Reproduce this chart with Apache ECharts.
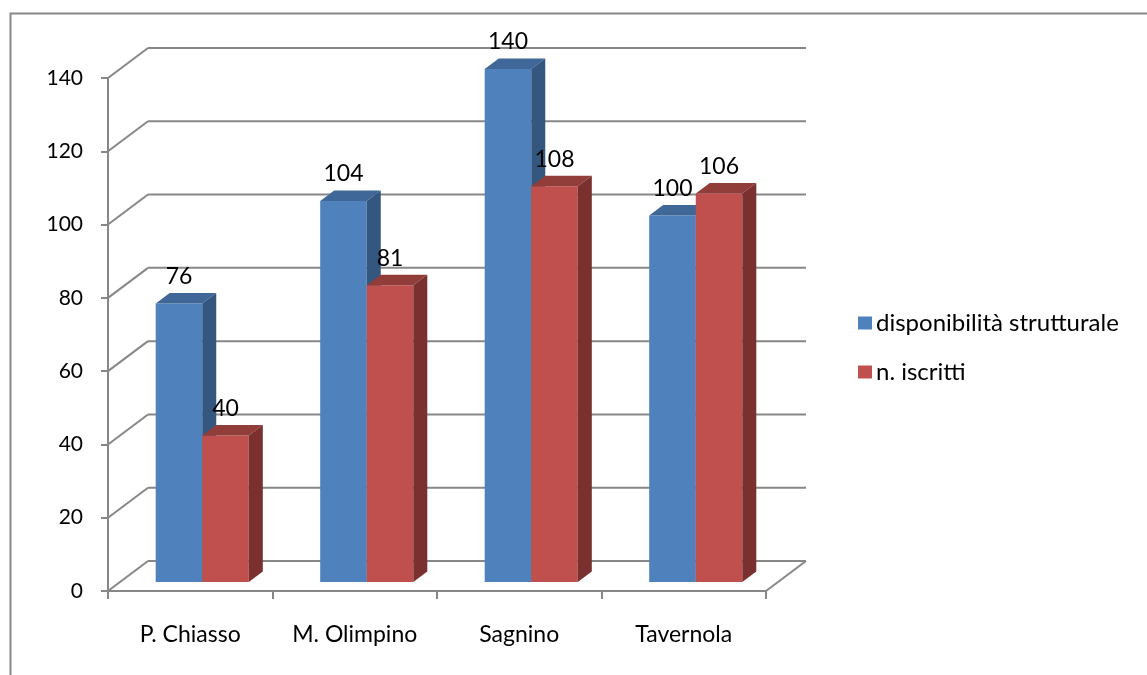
<!DOCTYPE html>
<html>
<head>
<meta charset="utf-8">
<script src="https://cdn.jsdelivr.net/npm/echarts@6/dist/echarts.min.js"></script>
<style>
  html, body { margin: 0; padding: 0; background: #fff; }
  #chart { width: 1147px; height: 675px; }
</style>
</head>
<body>
<div id="chart"></div>
<script>
// Data
const categories = ['P. Chiasso', 'M. Olimpino', 'Sagnino', 'Tavernola'];
const disponibilita = [76, 104, 140, 100];
const iscritti = [40, 81, 108, 106];
const yTicks = [0, 20, 40, 60, 80, 100, 120, 140];
const seriesNames = ['disponibilità strutturale', 'n. iscritti'];

// Pseudo-3D geometry: depth of the chart box and where the bars sit in it
const DEPTH_X = 40, DEPTH_Y = -30;
const BAR_D0 = 0.3, BAR_D1 = 0.65;
const BAR_FRAC = 0.283;
const FONT = 'Lato, "Open Sans", sans-serif';
const GRID_COLOR = '#878787';

const palettes = [
  { front: '#4F81BD', top: '#3F6899', side: '#34577F' },
  { front: '#C0504D', top: '#913D3A', side: '#7A302E' }
];

// Back wall, side wall and floor lines at each tick value
function renderWalls(params, api) {
  const cs = params.coordSys;
  const v = api.value(1);
  const y = api.coord([0, v])[1];
  const x0 = cs.x, x1 = cs.x + cs.width;
  const style = { stroke: GRID_COLOR, lineWidth: 2 };
  const children = [
    { type: 'line', shape: { x1: x0, y1: y, x2: x0 + DEPTH_X, y2: y + DEPTH_Y }, style },
    { type: 'line', shape: { x1: x0 + DEPTH_X, y1: y + DEPTH_Y, x2: x1 + DEPTH_X, y2: y + DEPTH_Y }, style }
  ];
  if (v === 0) {
    children.push({ type: 'line', shape: { x1: x1, y1: y, x2: x1 + DEPTH_X, y2: y + DEPTH_Y }, style });
  }
  return { type: 'group', children };
}

function makeBarRenderer(sIdx) {
  const pal = palettes[sIdx];
  return function (params, api) {
    const idx = api.value(0), val = api.value(1);
    const base = api.coord([idx, 0]);
    const top = api.coord([idx, val]);
    const catW = api.size([1, 0])[0];
    const bw = catW * BAR_FRAC;
    const off = sIdx === 0 ? -bw : 0;
    const fx = base[0] + DEPTH_X * BAR_D0 + off;
    const fy0 = base[1] + DEPTH_Y * BAR_D0;
    const fy1 = top[1] + DEPTH_Y * BAR_D0;
    const bdx = DEPTH_X * (BAR_D1 - BAR_D0), bdy = DEPTH_Y * (BAR_D1 - BAR_D0);
    return {
      type: 'group',
      children: [
        { type: 'rect', shape: { x: fx, y: fy1, width: bw, height: fy0 - fy1 }, style: { fill: pal.front } },
        { type: 'polygon', shape: { points: [[fx, fy1], [fx + bw, fy1], [fx + bw + bdx, fy1 + bdy], [fx + bdx, fy1 + bdy]] }, style: { fill: pal.top } },
        { type: 'polygon', shape: { points: [[fx + bw, fy1], [fx + bw + bdx, fy1 + bdy], [fx + bw + bdx, fy0 + bdy], [fx + bw, fy0]] }, style: { fill: pal.side } },
        { type: 'text', z2: 10, style: { x: fx + bw / 2, y: fy1 + bdy - 5, text: String(val), align: 'center', verticalAlign: 'bottom', fill: '#000', font: '23px ' + FONT } }
      ]
    };
  };
}

const chart = echarts.init(document.getElementById('chart'), null, { renderer: 'canvas' });
chart.setOption({
  backgroundColor: '#fff',
  animation: false,
  textStyle: { fontFamily: FONT },
  graphic: [{
    type: 'rect', left: 8, top: 11, z: -10,
    shape: { width: 1300, height: 800 },
    style: { fill: 'none', stroke: GRID_COLOR, lineWidth: 2 }
  }],
  legend: {
    orient: 'vertical',
    left: 853, top: 306,
    itemWidth: 14, itemHeight: 13, itemGap: 25,
    icon: 'rect',
    data: seriesNames,
    textStyle: { fontSize: 24, color: '#000', fontFamily: FONT, padding: [0, 0, 0, -1] }
  },
  grid: { left: 108, right: 381, top: 78, bottom: 84, containLabel: false },
  xAxis: {
    type: 'category',
    data: categories,
    boundaryGap: true,
    axisLine: { show: true, lineStyle: { color: GRID_COLOR, width: 2 } },
    axisTick: { show: true, alignWithLabel: false, length: 8, lineStyle: { color: GRID_COLOR, width: 2 } },
    axisLabel: { margin: 32, fontSize: 23, color: '#000', fontFamily: FONT },
    splitLine: { show: false }
  },
  yAxis: {
    type: 'value',
    min: 0, max: 140, interval: 20,
    axisLine: { show: true, lineStyle: { color: GRID_COLOR, width: 2 } },
    axisTick: { show: true, length: 7, lineStyle: { color: GRID_COLOR, width: 2 } },
    axisLabel: { margin: 25, fontSize: 21, color: '#000', fontFamily: FONT },
    splitLine: { show: false }
  },
  series: [
    {
      type: 'custom', name: '_walls', z: 1, silent: true,
      renderItem: renderWalls,
      data: yTicks.map(v => [0, v]),
      encode: { x: 0, y: 1 }
    },
    {
      type: 'custom', name: seriesNames[0], z: 2,
      itemStyle: { color: palettes[0].front },
      renderItem: makeBarRenderer(0),
      data: disponibilita.map((v, i) => [i, v]),
      encode: { x: 0, y: 1 }
    },
    {
      type: 'custom', name: seriesNames[1], z: 3,
      itemStyle: { color: palettes[1].front },
      renderItem: makeBarRenderer(1),
      data: iscritti.map((v, i) => [i, v]),
      encode: { x: 0, y: 1 }
    }
  ]
});
</script>
</body>
</html>
